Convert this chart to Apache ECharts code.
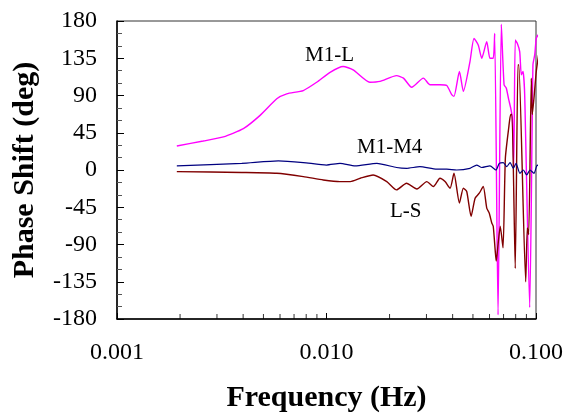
<!DOCTYPE html>
<html>
<head>
<meta charset="utf-8">
<script src="https://cdn.jsdelivr.net/npm/echarts@6/dist/echarts.min.js"></script>
<style>
  html, body { margin: 0; padding: 0; background: #fff; }
  #chart { width: 565px; height: 413px; }
</style>
</head>
<body>
<div id="chart"></div>
<script>
// phase shift vs frequency
var m1L = [
  [0.00193, 29], [0.00258, 35], [0.00322, 40], [0.00401, 50], [0.00482, 66],
  [0.00579, 86], [0.00646, 92], [0.00775, 96], [0.00898, 106], [0.0104, 118],
  [0.0120, 125], [0.0134, 121], [0.0161, 106], [0.0180, 107], [0.0216, 114],
  [0.0233, 111], [0.0255, 100], [0.0290, 111], [0.0312, 103], [0.0348, 103],
  [0.0375, 102], [0.0396, 91], [0.0406, 89], [0.0431, 119], [0.0450, 95],
  [0.0484, 131], [0.0506, 159], [0.0530, 151], [0.0551, 135], [0.0582, 155],
  [0.0603, 135], [0.0625, 135], [0.0635, 165], [0.0659, -175], [0.0683, 176],
  [0.0704, 103], [0.0721, 99], [0.0741, 85], [0.0757, 75], [0.0771, 63],
  [0.0783, 5], [0.0796, 157], [0.0814, 153], [0.0836, 143], [0.0851, 115],
  [0.0867, 119], [0.0883, 91], [0.0933, -166], [0.0967, 127], [0.0986, 139],
  [0.1003, 159], [0.1022, 163], [0.1042, 151]
];
var m1M4 = [
  [0.00193, 5], [0.00394, 8], [0.00589, 11], [0.00775, 9], [0.0100, 6],
  [0.0116, 8], [0.0137, 5], [0.0174, 8], [0.0216, 3], [0.0241, 2],
  [0.0279, 4], [0.0336, 1], [0.0375, 1], [0.0418, 0], [0.0484, 2],
  [0.0521, 6], [0.0551, 3], [0.0603, 5], [0.0644, 0], [0.0668, 8],
  [0.0698, 9], [0.0725, 4], [0.0752, 9], [0.0779, 2], [0.0803, 8],
  [0.0838, -4], [0.0870, 0], [0.0903, -6], [0.0936, 0], [0.0978, -4],
  [0.1014, 6], [0.1042, 4]
];
var lS = [
  [0.00193, -2], [0.00394, -3], [0.00579, -4], [0.00775, -8], [0.00965, -12],
  [0.0116, -14], [0.0130, -14], [0.0145, -10], [0.0167, -6], [0.0194, -14],
  [0.0216, -24], [0.0241, -16], [0.0270, -23], [0.0301, -14], [0.0324, -20],
  [0.0348, -10], [0.0368, -14], [0.0389, -22], [0.0406, -4], [0.0431, -40],
  [0.0450, -22], [0.0467, -26], [0.0490, -56], [0.0512, -34], [0.0536, -28],
  [0.0560, -20], [0.0582, -46], [0.0598, -52], [0.0615, -64], [0.0625, -68],
  [0.0639, -98], [0.0646, -110], [0.0659, -90], [0.0675, -68], [0.0696, -94],
  [0.0714, 14], [0.0741, 51], [0.0757, 67], [0.0768, 67], [0.0796, -119],
  [0.0820, 127], [0.0828, 127], [0.0893, -135], [0.0909, -70], [0.0923, -78],
  [0.0950, 111], [0.0960, 67], [0.0978, 87], [0.1003, 119], [0.1029, 139]
];
var minorTicksX = [0.002, 0.003, 0.004, 0.005, 0.006, 0.007, 0.008, 0.009,
  0.02, 0.03, 0.04, 0.05, 0.06, 0.07, 0.08, 0.09];

var serif = '"Liberation Serif", "Times New Roman", serif';
var chart = echarts.init(document.getElementById('chart'));

function lineSeries(name, data, color, width) {
  return {
    name: name,
    type: 'line',
    data: data,
    showSymbol: false,
    clip: false,
    smooth: 0.2,
    lineStyle: { color: color, width: width },
    z: 3
  };
}

chart.setOption({
  animation: false,
  grid: {
    left: 117, top: 21, right: 29, bottom: 94,
    containLabel: false,
    outerBoundsMode: 'none',
    show: true, borderColor: '#333', borderWidth: 1
  },
  xAxis: {
    type: 'log',
    logBase: 10,
    min: 0.001,
    max: 0.1,
    name: 'Frequency (Hz)',
    nameLocation: 'middle',
    nameGap: 64,
    nameTextStyle: { fontFamily: serif, fontSize: 30, fontWeight: 'bold', color: '#000' },
    axisLine: { onZero: false, lineStyle: { color: '#000', width: 1.5 } },
    axisTick: { inside: true, length: 6, lineStyle: { color: '#000' } },
    splitLine: { show: false },
    axisLabel: {
      margin: 22,
      fontFamily: serif, fontSize: 24, color: '#000',
      formatter: function (v) { return v.toFixed(3); }
    }
  },
  yAxis: {
    type: 'value',
    min: -180,
    max: 180,
    interval: 45,
    name: 'Phase Shift (deg)',
    nameLocation: 'middle',
    nameGap: 77,
    nameTextStyle: { fontFamily: serif, fontSize: 30, fontWeight: 'bold', color: '#000' },
    axisLine: { onZero: false, lineStyle: { color: '#000', width: 1.5 } },
    axisTick: { inside: true, length: 7, lineStyle: { color: '#000' } },
    minorTick: { show: true, splitNumber: 3, length: 5, lineStyle: { color: '#555' } },
    splitLine: { show: false },
    axisLabel: { margin: 20, fontFamily: serif, fontSize: 24, color: '#000' }
  },
  series: [
    lineSeries('M1-L', m1L, '#ff00ff', 1.4),
    lineSeries('L-S', lS, '#800000', 1.4),
    lineSeries('M1-M4', m1M4, '#000080', 1.2),
    {
      // log minor ticks on the frequency axis
      type: 'scatter',
      data: minorTicksX.map(function (f) { return [f, -180]; }),
      symbol: 'rect',
      symbolSize: [1, 5],
      symbolOffset: [0, -2.5],
      itemStyle: { color: '#000' },
      silent: true,
      z: 5
    }
  ],
  graphic: [
    { type: 'text', left: 305, top: 45, style: { text: 'M1-L', font: '21px ' + serif, fill: '#000' } },
    { type: 'text', left: 357, top: 137, style: { text: 'M1-M4', font: '21px ' + serif, fill: '#000' } },
    { type: 'text', left: 390, top: 201, style: { text: 'L-S', font: '21px ' + serif, fill: '#000' } }
  ]
});
</script>
</body>
</html>
